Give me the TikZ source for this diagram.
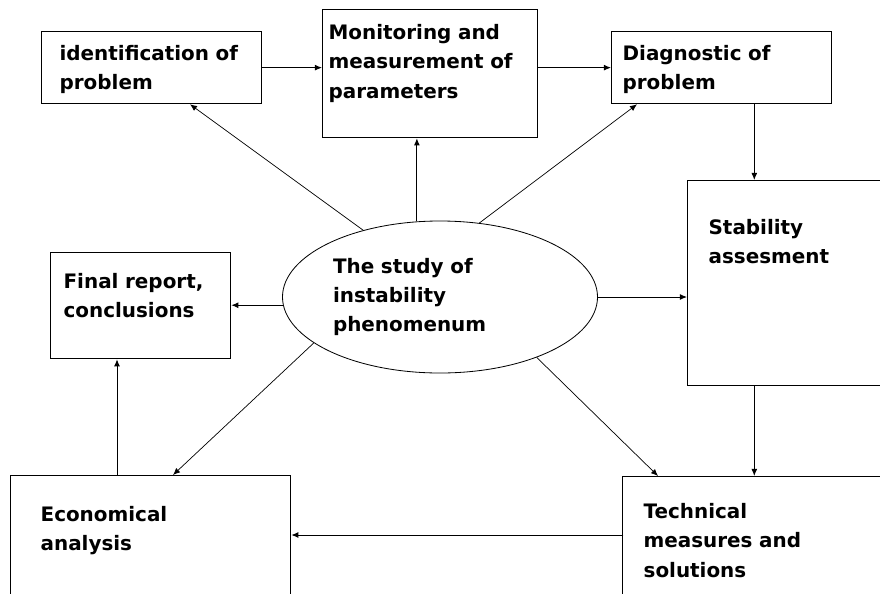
\documentclass[tikz,border=0pt]{standalone}
\usepackage{fontspec}
\setmainfont{DejaVu Sans}
\usepackage{tikz}
\usetikzlibrary{arrows.meta,calc,shapes.geometric}

\begin{document}
\begin{tikzpicture}[
      x=0.03cm,y=-0.03cm,
      box/.style={draw,line width=1.1pt,anchor=north west,align=left,inner ysep=0pt,
                  font=\fontsize{17}{25}\selectfont\bfseries},
      oval/.style={draw,ellipse,line width=0.7pt,align=left,inner sep=0pt,
                   font=\fontsize{17}{25}\selectfont\bfseries},
      >={Latex[length=6pt,width=5pt]},
      link/.style={->,line width=0.8pt},
      slant/.style={->,line width=0.6pt}
]
\useasboundingbox (0,0) rectangle (880,593);
\clip (0,0) rectangle (880,593);
\fill[white] (0,0) rectangle (880,593);
% boxes
\node[box,inner xsep=0.54cm,text width=5.52cm,text height=0.87cm,text depth=1.29cm] (ident) at (41,31) {identification of\\problem};
\node[box,inner xsep=0.18cm,text width=6.09cm,text height=0.9cm,text depth=2.94cm] (monitor) at (322,9) {Monitoring and\\measurement of\\parameters};
\node[box,inner xsep=0.33cm,text width=5.94cm,text height=0.855cm,text depth=1.305cm] (diag) at (611,31) {Diagnostic of\\problem};
\node[box,inner xsep=0.63cm,text width=5.34cm,text height=1.605cm,text depth=4.545cm] (stab) at (687,180) {Stability\\assesment};
\node[box,inner xsep=0.39cm,text width=4.62cm,text height=1.08cm,text depth=2.1cm] (final) at (50,252) {Final report,\\conclusions};
\node[box,inner xsep=0.9cm,text width=6.6cm,text height=1.37cm,text depth=2.83cm] (econ) at (10,475) {Economical\\analysis};
\node[box,inner xsep=0.63cm,text width=7.14cm,text height=1.26cm,text depth=2.94cm] (tech) at (622,476) {Technical\\measures and\\solutions};
% central ellipse
\node[oval,text width=6.42cm,minimum width=9.45cm,minimum height=4.56cm] (study) at (440,297) {The study of\\instability\\phenomenum};
% top chain
\draw[link] (ident.east) -- (ident.east -| monitor.west);
\draw[link] (monitor.east |- diag.west) -- (diag.west);
\draw[link] ($(diag.south east)+(-78,0)$) coordinate (d1) -- (d1 |- stab.north);
\draw[link] (d1 |- stab.south) -- (d1 |- tech.north);
\draw[link] ($(econ.north east)+(0,60)$) coordinate (e1) ++(332,0) -- (e1);
\draw[link] ($(econ.north west)+(107,0)$) coordinate (e2) -- (e2 |- final.south);
% from the ellipse
\draw[slant] (study.139) -- ($(ident.south west)+(149,0)$);
\draw[link] (study.107) -- (study.107 |- monitor.south);
\draw[slant] (study.62) -- ($(diag.south west)+(26,0)$);
\draw[link] (study.east) -- (study.east -| stab.west);
\draw[link] (study.183) -- (study.183 -| final.east);
\draw[slant] (study.200) -- ($(econ.north west)+(163,0)$);
\draw[slant] (study.328) -- ($(tech.north west)+(36,0)$);
\end{tikzpicture}
\end{document}
